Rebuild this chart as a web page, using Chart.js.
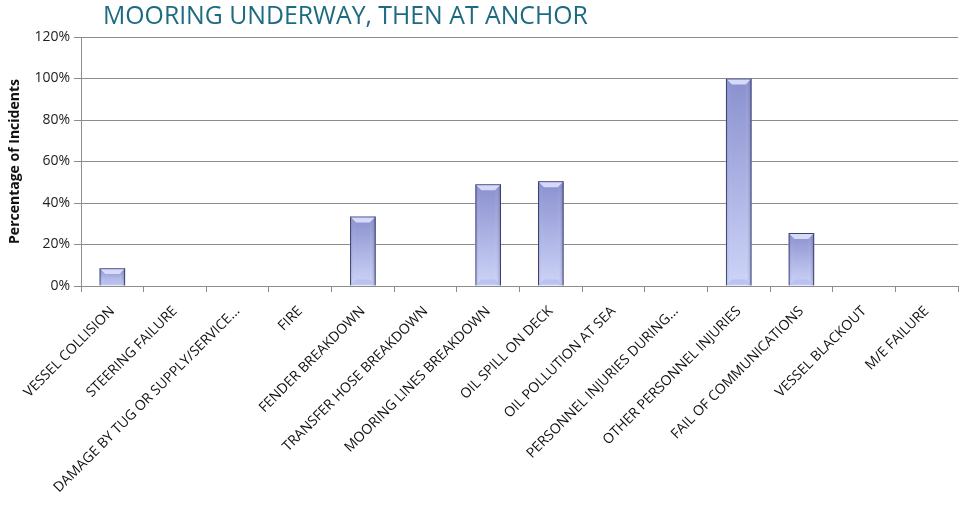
<!doctype html>
<html>
<head>
	<title>Mooring Underway, Then At Anchor</title>
	<script src="https://cdn.jsdelivr.net/npm/chart.js@4/dist/chart.umd.min.js"></script>
	<style>
		html, body { margin: 0; padding: 0; background: #fff; }
		#wrap { position: relative; width: 978px; height: 512px; }
		#title {
			position: absolute; left: 103px; top: -3px;
			font-family: 'Open Sans', sans-serif; font-size: 24.8px;
			color: #1d6b82; white-space: nowrap;
		}
	</style>
</head>
<body>
	<div id="wrap">
		<canvas id="canvas" width="978" height="512"></canvas>
		<div id="title">MOORING UNDERWAY, THEN AT ANCHOR</div>
	</div>
	<script>
		var categories = [
			'VESSEL COLLISION',
			'STEERING FAILURE',
			'DAMAGE BY TUG OR SUPPLY/SERVICE...',
			'FIRE',
			'FENDER BREAKDOWN',
			'TRANSFER HOSE BREAKDOWN',
			'MOORING LINES BREAKDOWN',
			'OIL SPILL ON DECK',
			'OIL POLLUTION AT SEA',
			'PERSONNEL INJURIES DURING...',
			'OTHER PERSONNEL INJURIES',
			'FAIL OF COMMUNICATIONS',
			'VESSEL BLACKOUT',
			'M/E FAILURE'
		];
		var percentages = [8.5, 0, 0, 0, 33.5, 0, 49, 50.5, 0, 0, 100, 25.5, 0, 0];
		var yTicks = [0, 20, 40, 60, 80, 100, 120];

		// the office style 3d bars: gradient per bar plus bevels
		var bevel = {
			id: 'bevel',
			beforeDatasetsDraw: function(chart) {
				var c = chart.ctx;
				chart.getDatasetMeta(0).data.forEach(function(bar, i) {
					if (!percentages[i]) return;
					var p = bar.getProps(['x', 'y', 'base', 'width'], true);
					var l = p.x - p.width / 2, w = p.width, h = p.base - p.y;
					var g = c.createLinearGradient(0, p.y, 0, p.base);
					g.addColorStop(0, '#8a90ce');
					g.addColorStop(1, '#cdd4f8');
					c.save();
					c.fillStyle = g;
					c.fillRect(l, p.y, w, h);
					var s = c.createLinearGradient(l, 0, l + w, 0);
					s.addColorStop(0, 'rgba(70,76,140,0.25)');
					s.addColorStop(0.2, 'rgba(255,255,255,0)');
					s.addColorStop(0.75, 'rgba(255,255,255,0)');
					s.addColorStop(1, 'rgba(50,56,110,0.4)');
					c.fillStyle = s;
					c.fillRect(l, p.y, w, h);
					c.restore();
				});
			},
			afterDatasetsDraw: function(chart) {
				var c = chart.ctx;
				chart.getDatasetMeta(0).data.forEach(function(bar, i) {
					if (!percentages[i]) return;
					var p = bar.getProps(['x', 'y', 'base', 'width'], true);
					var l = p.x - p.width / 2, r = p.x + p.width / 2;
					var d = Math.min(6, (p.base - p.y) / 3);
					c.save();
					c.fillStyle = 'rgba(225,230,255,0.85)';
					c.beginPath();
					c.moveTo(l + 1, p.y + 1);
					c.lineTo(r - 1, p.y + 1);
					c.lineTo(r - d, p.y + d);
					c.lineTo(l + d, p.y + d);
					c.closePath();
					c.fill();
					c.fillStyle = 'rgba(175,185,235,0.6)';
					c.beginPath();
					c.moveTo(l + 1, p.base - 1);
					c.lineTo(r - 1, p.base - 1);
					c.lineTo(r - d, p.base - d);
					c.lineTo(l + d, p.base - d);
					c.closePath();
					c.fill();
					c.restore();
				});
			}
		};

		var config = {
			type: 'bar',
			data: {
				labels: categories,
				datasets: [{
					label: 'Percentage of Incidents',
					data: percentages,
					backgroundColor: 'rgba(0,0,0,0)',
					borderColor: '#3c4170',
					borderWidth: 1,
					barPercentage: 0.41,
					categoryPercentage: 1.0
				}]
			},
			options: {
				responsive: false,
				animation: false,
				layout: { padding: { top: 37, right: 20, left: 0, bottom: 0 } },
				plugins: {
					legend: { display: false },
					tooltip: { enabled: false }
				},
				scales: {
					x: {
						grid: {
							offset: true,
							drawOnChartArea: false,
							drawTicks: true,
							tickLength: 6,
							color: '#8c8c8c'
						},
						border: { color: '#8c8c8c' },
						ticks: {
							maxRotation: 45,
							minRotation: 45,
							autoSkip: false,
							padding: 11,
							color: '#111',
							font: { family: "'Open Sans', sans-serif", size: 14 }
						},
						afterFit: function(scale) { scale.height = 226; }
					},
					y: {
						min: 0,
						max: 120,
						afterBuildTicks: function(scale) {
							scale.ticks = yTicks.map(function(v) { return { value: v }; });
						},
						grid: {
							color: '#8c8c8c',
							tickLength: 7
						},
						border: { color: '#8c8c8c' },
						ticks: {
							padding: 4,
							color: '#222',
							font: { family: "'Open Sans', sans-serif", size: 14 },
							callback: function(v) { return v + '%'; }
						},
						title: {
							display: true,
							text: 'Percentage of Incidents',
							color: '#111',
							padding: { top: 7, bottom: 1 },
							font: { family: "'Open Sans', sans-serif", size: 14, weight: 'bold' }
						},
						afterFit: function(scale) { scale.width = 81; }
					}
				}
			},
			plugins: [bevel]
		};

		window.onload = function() {
			window.myBar = new Chart(document.getElementById('canvas'), config);
		};
	</script>
</body>
</html>
